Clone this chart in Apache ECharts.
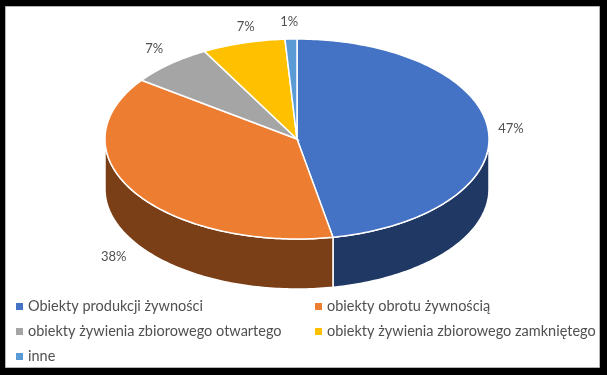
<!DOCTYPE html>
<html>
<head>
<meta charset="utf-8">
<style>html,body{margin:0;padding:0;background:#000}#c{width:607px;height:375px}</style>
<script src="https://cdn.jsdelivr.net/npm/echarts@6/dist/echarts.min.js"></script>
</head>
<body>
<div id="c"></div>
<script>
const categories = ['Obiekty produkcji żywności','obiekty obrotu żywnością','obiekty żywienia zbiorowego otwartego','obiekty żywienia zbiorowego zamkniętego','inne'];
const values = [47,38,7,7,1];
const topColors = ['#4472C4','#ED7D31','#A5A5A5','#FFC000','#5B9BD5'];
const sideColors = ['#203864','#7B3F17','#636363','#997300','#2E75B6'];

const total = values.reduce((a,b)=>a+b,0);
const CX=297, CY=139, RX=192, RY=100, DEPTH=50;
const LRX=216, LRY=118;
const labelNudge = [[-1,1],[-1,5],[0,-2],[9,1],[-1,1]];
const deg = Math.PI/180;
const pt=(a,dy)=>[CX+RX*Math.sin(a), CY-RY*Math.cos(a)+dy];
function arc(a0,a1,dy){
  const n=Math.max(2,Math.ceil((a1-a0)/(1*deg)));
  const out=[];
  for(let i=0;i<=n;i++) out.push(pt(a0+(a1-a0)*i/n,dy));
  return out;
}
function startAngle(i){
  let s=0; for(let k=0;k<i;k++) s+=values[k];
  return s/total*2*Math.PI;
}
function makeRender(i){
  return function(params,api){
    const a0=startAngle(i);
    const a1=a0+api.value(0)/total*2*Math.PI;
    const children=[];
    const sa0=Math.max(a0,Math.PI/2), sa1=Math.min(a1,Math.PI*1.5);
    if(sa1>sa0){
      const top=arc(sa0,sa1,0), bot=arc(sa0,sa1,DEPTH).reverse();
      children.push({type:'polygon',shape:{points:top.concat(bot)},
        style:{fill:sideColors[i],stroke:'#fff',lineWidth:1.5}});
    }
    const topPts=[[CX,CY]].concat(arc(a0,a1,0));
    children.push({type:'polygon',z2:5,shape:{points:topPts},
      style:{fill:topColors[i],stroke:'#fff',lineWidth:1.5}});
    const m=(a0+a1)/2;
    const lx=CX+LRX*Math.sin(m)+labelNudge[i][0];
    const ly=CY-LRY*Math.cos(m)+(Math.cos(m)<-0.2?DEPTH:0)+labelNudge[i][1];
    children.push({type:'text',z2:10,style:{x:lx,y:ly,text:api.value(0)+'%',
      fill:'#505050',font:'13px Lato, "Open Sans", sans-serif',align:'center',verticalAlign:'middle'}});
    return {type:'group',children};
  };
}
const legendPos=[[16,299],[315,299],[16,324],[315,324],[16,349]];
const chart=echarts.init(document.getElementById('c'),null,{renderer:'canvas'});
chart.setOption({
  animation:false,
  backgroundColor:'#000',
  graphic:[{type:'rect',z:-1,shape:{x:5.5,y:6.5,width:594,height:361},style:{fill:'#fff',stroke:'#b5b5b5',lineWidth:1}}],
  legend:categories.map((c,i)=>({
    data:[c],left:legendPos[i][0],top:legendPos[i][1],padding:0,
    itemWidth:7,itemHeight:7,itemGap:0,icon:'rect',
    selectedMode:false,
    textStyle:{color:'#505050',fontSize:14.5,fontFamily:'Lato, "Open Sans", sans-serif'}
  })),
  series:categories.map((c,i)=>({
    type:'custom',name:c,coordinateSystem:'none',
    data:[[values[i]]],
    itemStyle:{color:topColors[i]},
    renderItem:makeRender(i),
    silent:true
  }))
});
</script>
</body>
</html>
